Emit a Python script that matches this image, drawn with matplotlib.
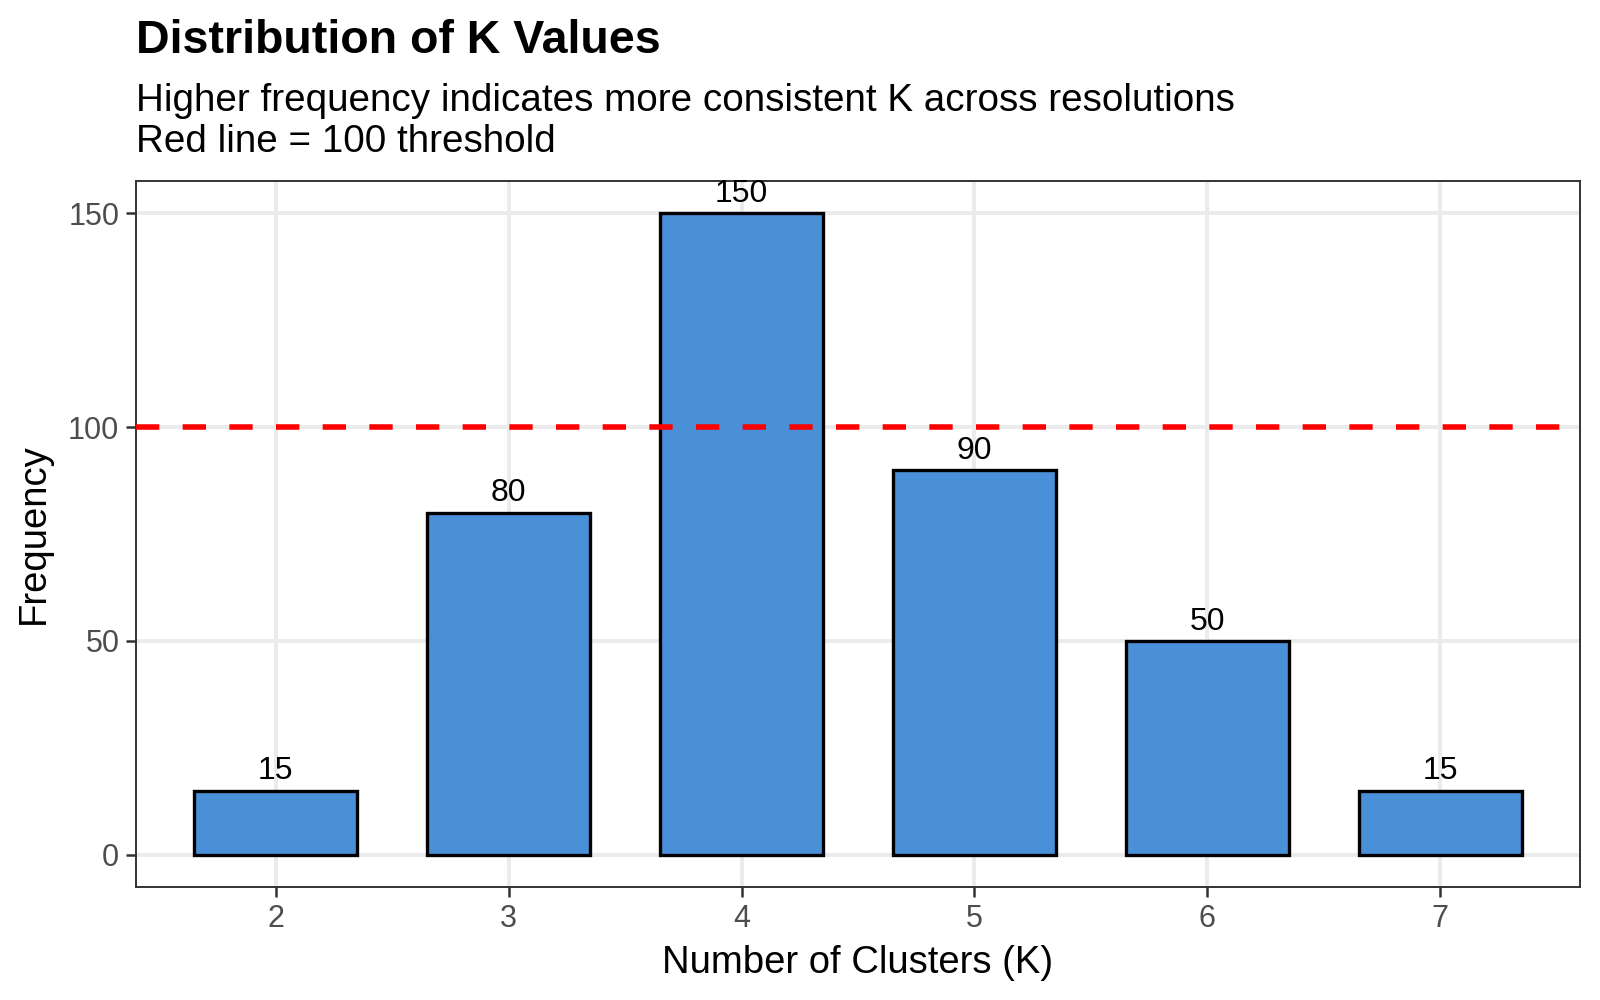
import matplotlib.pyplot as plt
import numpy as np

plt.rcParams['font.family'] = ['Liberation Sans', 'DejaVu Sans']

k_values = ["2", "3", "4", "5", "6", "7"]
frequency = [15, 80, 150, 90, 50, 15]
threshold = 100

fig = plt.figure(figsize=(16, 10), dpi=100)
ax = fig.add_axes([0.085, 0.113, 0.9025, 0.706])

x = np.arange(len(k_values))
ax.bar(x, frequency, width=0.7, color="#4A90D9", edgecolor="black", linewidth=2.4, zorder=3)
for xi, v in zip(x, frequency):
    ax.text(xi, v + 1.0, str(v), ha="center", va="bottom", fontsize=23, color="black", zorder=5)

# threshold line
ax.axhline(threshold, color="red", lw=4, ls=(0, (4.2, 4.2)), zorder=4)

ax.set_xlim(-0.6, len(k_values) - 0.4)
ax.set_ylim(-7.5, 157.5)
ax.set_xticks(x)
ax.set_xticklabels(k_values)
ax.set_yticks([0, 50, 100, 150])
ax.tick_params(axis="both", labelsize=22, labelcolor="#4d4d4d", color="#333333",
               length=7, width=1.8, pad=5)
ax.grid(True, color="#ebebeb", lw=2.8, zorder=0)
ax.set_axisbelow(True)
for s in ax.spines.values():
    s.set_color("#333333")
    s.set_linewidth(1.4)

ax.set_xlabel("Number of Clusters (K)", fontsize=27.5, labelpad=8)
ax.set_ylabel("Frequency", fontsize=27.5, labelpad=12)

fig.text(0.085, 0.959, "Distribution of K Values", fontsize=33.5, fontweight="bold", va="center")
fig.text(0.085, 0.899, "Higher frequency indicates more consistent K across resolutions",
         fontsize=27.8, va="center")
fig.text(0.085, 0.858, "Red line = 100 threshold", fontsize=27.8, va="center")

fig.savefig("out.png", dpi=100)
